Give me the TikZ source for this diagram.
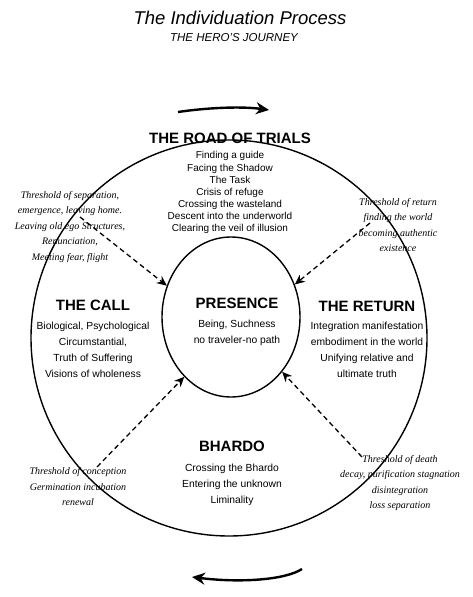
\documentclass[tikz,border=0pt]{standalone}
\usepackage{fontspec}
\setmainfont{Liberation Sans}
\newfontfamily\threshfont{Liberation Serif}
\usetikzlibrary{arrows.meta, positioning, shapes.geometric}

\begin{document}
\begin{tikzpicture}[
    x=1pt, y=-1pt,
    >=Stealth,
    ring/.style={draw, line width=1.4pt, inner sep=0pt},
    stage/.style={font=\fontsize{15}{18}\selectfont\bfseries, inner sep=0pt},
    steps/.style={font=\fontsize{10.3}{16}\selectfont, align=center, inner sep=0pt},
    thresh/.style={font=\threshfont\itshape\fontsize{10}{15.5}\selectfont, align=center, inner sep=0pt},
    gate/.style={line width=1.3pt, dash pattern=on 5pt off 3.5pt, -{Stealth[length=10pt,width=9pt]}},
    flow/.style={line width=2.4pt, -{Stealth[length=13pt,width=12pt]}},
]
\useasboundingbox (0,0) rectangle (473,597);

%--- Title ---
\node[font=\fontsize{18.5}{22}\selectfont\itshape] (title) at (240,18) {The Individuation Process};
\node[font=\fontsize{11.5}{14}\selectfont\itshape] (subtitle) at (234,38) {THE HERO'S JOURNEY};

%--- Rings ---
\node[ring, circle, minimum size=396pt] (outer) at (229,338) {};
\node[ring, ellipse, minimum width=138pt, minimum height=160pt] (inner) at (231,317) {};

%--- Stages ---
\node[stage] (trials) at (230,138) {THE ROAD OF TRIALS};
\node[steps, font=\fontsize{10}{12.1}\selectfont, below=8pt of trials] (trialsteps) {Finding a guide\\Facing the Shadow\\The Task\\Crisis of refuge\\Crossing the wasteland\\Descent into the underworld\\Clearing the veil of illusion};

\node[stage] (call) at (93,305) {THE CALL};
\node[steps, below=11pt of call] (callsteps) {Biological, Psychological\\Circumstantial,\\Truth of Suffering\\Visions of wholeness};

\node[stage] (presence) at (237,303) {PRESENCE};
\node[steps, below=11pt of presence] (presencesteps) {Being, Suchness\\no traveler-no path};

\node[stage] (return) at (367,306) {THE RETURN};
\node[steps, below=10pt of return] (returnsteps) {Integration manifestation\\embodiment in the world\\Unifying relative and\\ultimate truth};

\node[stage] (bhardo) at (232,446) {BHARDO};
\node[steps, below=12pt of bhardo] (bhardosteps) {Crossing the Bhardo\\Entering the unknown\\Liminality};

%--- Thresholds ---
\node[thresh] (sepgate) at (70,227) {Threshold of separation,\\emergence, leaving home.\\Leaving old ego Structures,\\Renunciation,\\Meeting fear, flight};
\node[thresh] (returngate) at (398,225) {Threshold of return\\finding the world\\becoming authentic\\existence};
\node[thresh] (conceptgate) at (78,487) {Threshold of conception\\Germination incubation\\renewal};
\node[thresh] (deathgate) at (400,483) {Threshold of death\\decay, purification stagnation\\disintegration\\loss separation};

\coordinate (sepfrom) at (80,217);
\coordinate (returnfrom) at (370,223);
\coordinate (conceptfrom) at (97,467);
\coordinate (deathfrom) at (362,457);

\draw[gate] (sepfrom) -- (inner.154);
\draw[gate] (returnfrom) -- (inner.27);
\draw[gate] (conceptfrom) -- (inner.232);
\draw[gate] (deathfrom) -- (inner.313);

%--- Direction of the cycle ---
\coordinate (cwtop) at (178,112);
\coordinate (cwtopend) at (269,110);
\coordinate (cwbot) at (302,569);
\coordinate (cwbotend) at (192,577);
\draw[flow] (cwtop) .. controls (205,108) and (240,106) .. (cwtopend);
\draw[flow] (cwbot) .. controls (285,580) and (240,583) .. (cwbotend);

\end{tikzpicture}
\end{document}
